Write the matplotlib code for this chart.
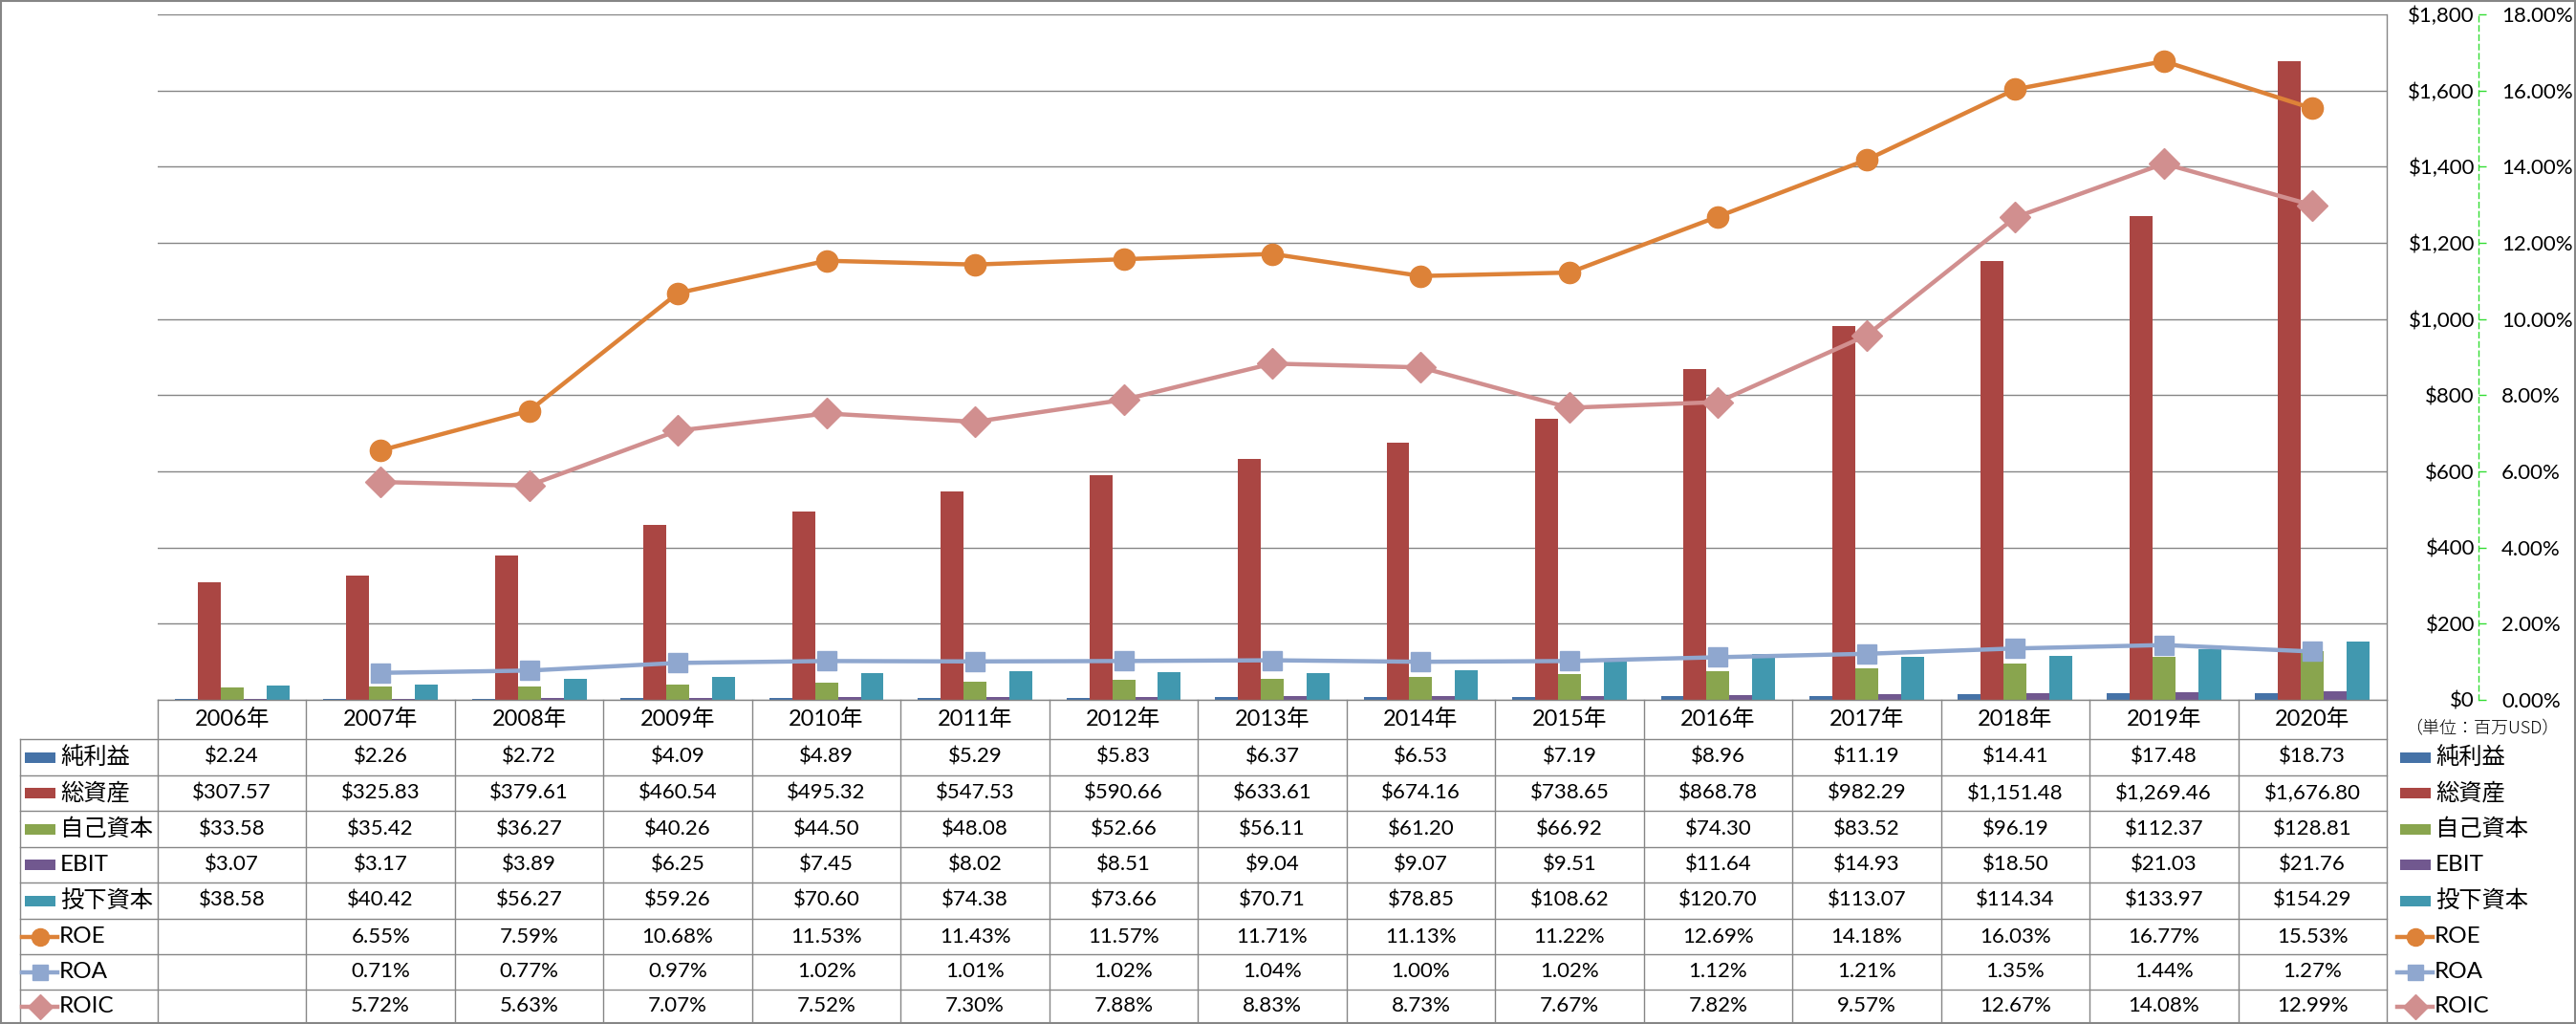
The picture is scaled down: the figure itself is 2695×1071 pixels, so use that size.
import numpy as np
import matplotlib
matplotlib.use("Agg")
import matplotlib.pyplot as plt
from matplotlib.lines import Line2D
from matplotlib.patches import Rectangle

plt.rcParams['font.family'] = ['Lato', 'Noto Sans CJK JP', 'DejaVu Sans']

# ---------------- data ----------------
years = ['2006年', '2007年', '2008年', '2009年', '2010年', '2011年', '2012年', '2013年',
         '2014年', '2015年', '2016年', '2017年', '2018年', '2019年', '2020年']
net_income = [2.24, 2.26, 2.72, 4.09, 4.89, 5.29, 5.83, 6.37, 6.53, 7.19, 8.96, 11.19, 14.41, 17.48, 18.73]
total_assets = [307.57, 325.83, 379.61, 460.54, 495.32, 547.53, 590.66, 633.61, 674.16, 738.65,
                868.78, 982.29, 1151.48, 1269.46, 1676.80]
equity = [33.58, 35.42, 36.27, 40.26, 44.50, 48.08, 52.66, 56.11, 61.20, 66.92, 74.30, 83.52,
          96.19, 112.37, 128.81]
ebit = [3.07, 3.17, 3.89, 6.25, 7.45, 8.02, 8.51, 9.04, 9.07, 9.51, 11.64, 14.93, 18.50, 21.03, 21.76]
invested = [38.58, 40.42, 56.27, 59.26, 70.60, 74.38, 73.66, 70.71, 78.85, 108.62, 120.70, 113.07,
            114.34, 133.97, 154.29]
roe = [np.nan, 6.55, 7.59, 10.68, 11.53, 11.43, 11.57, 11.71, 11.13, 11.22, 12.69, 14.18, 16.03, 16.77, 15.53]
roa = [np.nan, 0.71, 0.77, 0.97, 1.02, 1.01, 1.02, 1.04, 1.00, 1.02, 1.12, 1.21, 1.35, 1.44, 1.27]
roic = [np.nan, 5.72, 5.63, 7.07, 7.52, 7.30, 7.88, 8.83, 8.73, 7.67, 7.82, 9.57, 12.67, 14.08, 12.99]

bar_names = ['純利益', '総資産', '自己資本', 'EBIT', '投下資本']
bar_values = [net_income, total_assets, equity, ebit, invested]
bar_colors = ['#4572A7', '#AA4643', '#89A54E', '#71588F', '#4198AF']

line_names = ['ROE', 'ROA', 'ROIC']
line_values = [roe, roa, roic]
line_colors = ['#DD8238', '#8FA7CF', '#D18F8F']
line_markers = ['o', 's', 'D']
marker_sizes = [16, 14.5, 16]
legend_marker_sizes = [13, 12, 13]

dollar_ticks = [0, 200, 400, 600, 800, 1000, 1200, 1400, 1600, 1800]
pct_ticks = [0, 2, 4, 6, 8, 10, 12, 14, 16, 18]

# ---------------- layout ----------------
W, H = 2695, 1071
DPI = 100
fig = plt.figure(figsize=(W / DPI, H / DPI), dpi=DPI)

PL, PR, PT, PB = 165, 2497, 15, 732
ax = fig.add_axes([PL / W, 1 - PB / H, (PR - PL) / W, (PB - PT) / H])
GRID = '#868686'

n = len(years)
x = np.arange(n)
bw = 0.154
for i, (vals, col) in enumerate(zip(bar_values, bar_colors)):
    ax.bar(x + (i - 2) * bw, vals, width=bw, color=col, zorder=2, linewidth=0)

ax.set_xlim(-0.5, n - 0.5)
ax.set_ylim(0, 1800)
ax.set_axisbelow(True)
ax.yaxis.grid(True, color=GRID, linewidth=1.0)
ax.set_xticks([])
for s in ['left', 'top']:
    ax.spines[s].set_visible(False)
ax.spines['bottom'].set_color(GRID)
ax.spines['right'].set_color(GRID)
ax.spines['bottom'].set_linewidth(1.0)
ax.spines['right'].set_linewidth(1.0)

ax2 = ax.twinx()
ax2.set_ylim(0, 18)
ax2.set_xlim(-0.5, n - 0.5)
for i, (vals, col, mk, ms) in enumerate(zip(line_values, line_colors, line_markers, marker_sizes)):
    ax2.plot(x, vals, color=col, linewidth=3.2, marker=mk, markersize=ms,
             markerfacecolor=col, markeredgecolor=col, zorder=3 + i)
for s in ['left', 'top', 'bottom']:
    ax2.spines[s].set_visible(False)
green = '#33DD33'
ax2.spines['right'].set_position(('outward', 96 * 72 / DPI))
ax2.spines['right'].set_color(green)
ax2.spines['right'].set_linestyle((0, (4, 3)))
ax2.spines['right'].set_linewidth(1.0)
ax2.set_yticks(pct_ticks)
ax2.set_yticklabels(['{:.2f}%'.format(v) for v in pct_ticks], fontsize=16)
ax2.tick_params(axis='y', direction='out', length=8 * 72 / DPI, width=1.0, color=green,
                pad=16 * 72 / DPI)

# primary ($) axis labels on the right (after twinx, which resets ticks to the left)
ax.yaxis.tick_right()
ax.set_yticks(dollar_ticks)
ax.set_yticklabels(['${:,}'.format(v) for v in dollar_ticks], ha='right', fontsize=16)
ax.tick_params(axis='y', which='both', left=False, labelleft=False, right=False,
               labelright=True, length=0, pad=92 * 72 / DPI)

# ---------------- data table ----------------
def fx(px):
    return px / W

def fy(py):
    return 1 - py / H

def hline(x0, x1, y, **kw):
    fig.add_artist(Line2D([fx(x0), fx(x1)], [fy(y), fy(y)], transform=fig.transFigure,
                          color=GRID, linewidth=1.0, **kw))

def vline(xx, y0, y1, **kw):
    fig.add_artist(Line2D([fx(xx), fx(xx)], [fy(y0), fy(y1)], transform=fig.transFigure,
                          color=GRID, linewidth=1.0, **kw))

cw = (PR - PL) / n
row_edges = [732, 773, 811, 848, 886, 923, 961, 998, 1035, 1070]
LX = 21

for i in range(n + 1):
    vline(PL + i * cw, row_edges[0], row_edges[-1])
vline(LX, row_edges[1], row_edges[-1])
for y in row_edges[1:]:
    hline(LX, PR, y)

hy = (row_edges[0] + row_edges[1]) / 2
for i, yr in enumerate(years):
    fig.text(fx(PL + (i + 0.5) * cw), fy(hy), yr, ha='center', va='center', fontsize=17)

row_texts = []
for vals in bar_values:
    row_texts.append(['${:,.2f}'.format(v) for v in vals])
for vals in line_values:
    row_texts.append(['' if np.isnan(v) else '{:.2f}%'.format(v) for v in vals])

all_names = bar_names + line_names
for r, texts in enumerate(row_texts):
    cy = (row_edges[r + 1] + row_edges[r + 2]) / 2
    for i, t in enumerate(texts):
        fig.text(fx(PL + (i + 0.5) * cw), fy(cy), t, ha='center', va='center', fontsize=16)


def legend_key(x0, cy, r):
    if r < 5:
        fig.add_artist(Rectangle((fx(x0 + 3), fy(cy + 5.5)), 32 / W, 11 / H,
                                 transform=fig.transFigure, facecolor=bar_colors[r],
                                 edgecolor='none'))
        return x0 + 40
    k = r - 5
    fig.add_artist(Line2D([fx(x0), fx(x0 + 37)], [fy(cy), fy(cy)], transform=fig.transFigure,
                          color=line_colors[k], linewidth=3.2))
    fig.add_artist(Line2D([fx(x0 + 18.5)], [fy(cy)], transform=fig.transFigure,
                          color=line_colors[k], marker=line_markers[k],
                          markersize=legend_marker_sizes[k], linestyle='none'))
    return x0 + 39

for r, name in enumerate(all_names):
    cy = (row_edges[r + 1] + row_edges[r + 2]) / 2
    tx = legend_key(LX + 2, cy, r)
    fig.text(fx(tx), fy(cy), name, ha='left', va='center', fontsize=17.5)
    tx2 = legend_key(2508, cy, r)
    fig.text(fx(tx2), fy(cy), name, ha='left', va='center', fontsize=17.5)

fig.text(fx(2516), fy(762), '（単位：百万USD）', ha='left', va='center', fontsize=13,
         family=['Noto Sans CJK JP'], fontweight='light')

fig.add_artist(Rectangle((0.0005, 0.0008), 0.999, 0.998, transform=fig.transFigure,
                         facecolor='none', edgecolor=GRID, linewidth=1.5))

fig.savefig('out.png', dpi=DPI)
